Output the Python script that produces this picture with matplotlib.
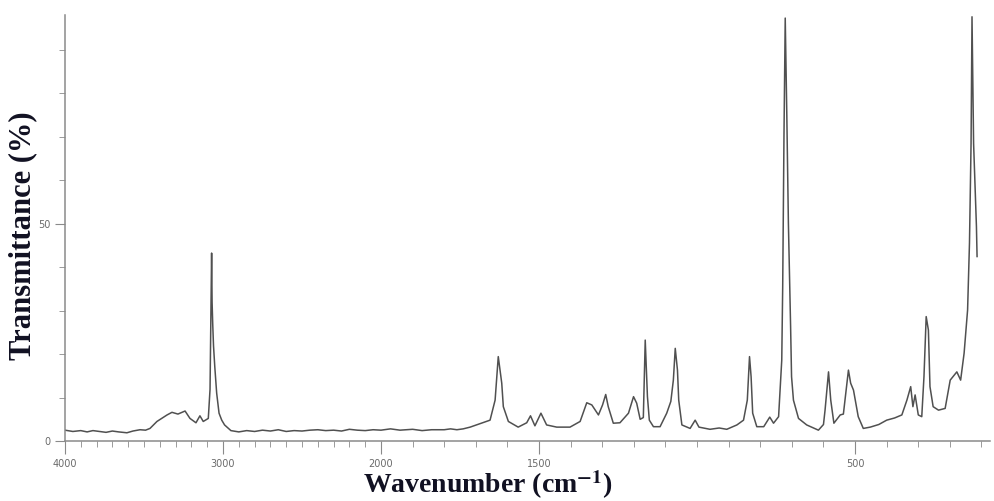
import numpy as np
import matplotlib
matplotlib.use("Agg")
import matplotlib.pyplot as plt

# spectrum (wavenumber in cm-1, transmittance in %)
wavenumber = [4000, 3950, 3900, 3860, 3823, 3780, 3740, 3700, 3660, 3608, 3570,
              3525, 3490, 3462, 3418, 3354, 3323, 3285,
              3240, 3209, 3171, 3146, 3125, 3093, 3082, 3076, 3072, 3069, 3065,
              3060, 3052, 3040, 3025, 3008, 2990, 2950, 2900, 2850, 2800, 2750,
              2700, 2650, 2600, 2550, 2500, 2450, 2400, 2350, 2300, 2250, 2200,
              2150, 2100, 2050, 2000, 1970, 1940, 1900, 1870, 1840, 1800, 1780,
              1760, 1740, 1718, 1655, 1639, 1629, 1618, 1613, 1597,
              1566, 1539, 1527, 1513, 1494, 1476, 1444, 1402, 1370, 1349, 1333,
              1312, 1299, 1289, 1281, 1265, 1244, 1217, 1201, 1191, 1180, 1170,
              1164, 1157, 1151, 1138, 1117, 1096, 1083, 1075, 1069, 1062, 1058,
              1048, 1022, 1006, 994, 959, 930, 906, 874, 853, 841, 834, 829, 824, 811,
              789, 770, 758, 742, 732, 729, 725, 721, 716, 711, 704, 701, 695,
              679, 653, 616, 600, 595, 584, 577, 567, 547, 537, 521, 514, 505,
              490, 474, 452, 425, 400, 375, 352, 336, 324, 317, 310, 300, 289, 282, 275,
              268, 263, 253, 236, 215, 199, 178, 166, 155, 144, 138, 133, 130,
              125, 116, 114]
transmittance = [2.6, 2.3, 2.5, 2.2, 2.5, 2.3, 2.1, 2.4, 2.2, 2.0, 2.4,
                 2.7, 2.6, 3.0, 4.6, 6.1, 6.7, 6.3,
                 7.0, 5.3, 4.3, 5.9, 4.6, 5.3, 12.0, 30.0, 43.3, 32.0, 27.0,
                 22.0, 17.2, 11.1, 6.5, 4.9, 3.8, 2.5, 2.2, 2.5, 2.3, 2.6,
                 2.4, 2.7, 2.3, 2.5, 2.4, 2.6, 2.7, 2.5, 2.6, 2.4, 2.8,
                 2.6, 2.5, 2.7, 2.6, 2.9, 2.6, 2.8, 2.5, 2.7, 2.7, 2.9,
                 2.7, 2.9, 3.3, 4.9, 9.5, 19.5, 13.4, 8.0, 4.6,
                 3.3, 4.3, 5.9, 3.6, 6.5, 3.8, 3.3, 3.3, 4.6, 8.9, 8.4,
                 6.1, 8.4, 10.8, 8.0, 4.2, 4.3, 6.5, 10.3, 8.8, 5.1, 5.5,
                 23.3, 10.3, 4.9, 3.4, 3.4, 6.5, 9.2, 14.1, 21.4, 16.4, 9.5,
                 3.8, 3.0, 4.9, 3.3, 2.8, 3.1, 2.8, 3.8, 4.9, 9.5, 19.5, 14.9, 6.5, 3.4,
                 3.4, 5.6, 4.2, 5.7, 18.7, 35.6, 70.0, 97.3, 75.0, 50.2, 26.4, 14.9, 9.5,
                 5.3, 3.8, 2.6, 3.9, 7.2, 16.0, 9.5, 4.2, 6.1, 6.3, 16.4, 13.4, 11.8,
                 5.7, 3.0, 3.3, 3.9, 4.9, 5.4, 6.1, 9.5, 12.6, 8.0, 10.7, 6.1, 5.7, 14.9, 28.7,
                 25.6, 12.6, 8.0, 7.2, 7.6, 14.1, 16.0, 14.1, 20.3, 30.2, 45.6, 68.5, 97.6,
                 68.5, 49.4, 42.5]

major_x = [4000, 3000, 2000, 1500, 500]
major_y = [0, 50]


def forward(w):
    w = np.asarray(w, dtype=float)
    return np.where(w >= 2000, 2000 + (w - 2000) / 2, w)


def inverse(u):
    u = np.asarray(u, dtype=float)
    return np.where(u >= 2000, 2000 + (u - 2000) * 2, u)


plt.rcParams['mathtext.fontset'] = 'stix'

fig = plt.figure(figsize=(9.95, 5.01), dpi=100)
ax = fig.add_axes([0.0653, 0.1188, 0.9297, 0.8512])
ax.set_xscale('function', functions=(forward, inverse))

ax.plot(wavenumber, transmittance, color='#505050', linewidth=1.1)

ax.set_xlim(4000, 73)
ax.set_ylim(0, 98)

ax.set_xticks(major_x)
ax.set_xticklabels([str(v) for v in major_x])
ax.set_xticks(np.arange(100, 4000, 100), minor=True)
ax.set_yticks(major_y)
ax.set_yticks(np.arange(10, 100, 10), minor=True)

for side in ['top', 'right']:
    ax.spines[side].set_visible(False)
for side in ['left', 'bottom']:
    ax.spines[side].set_color('#8a8a8a')
    ax.spines[side].set_linewidth(1.1)

ax.tick_params(axis='both', which='major', direction='out', length=9,
               color='#8a8a8a', labelsize=7, labelcolor='#6a6a6a')
ax.tick_params(axis='both', which='minor', direction='out', length=4,
               color='#8a8a8a')
ax.tick_params(axis='y', which='major', length=7)

fig.text(0.023, 0.53, 'Transmittance (%)', rotation=90, ha='center', va='center',
         family='Liberation Serif', fontweight='bold', fontsize=22, color='#111122')
fig.text(0.49, 0.032, r'Wavenumber (cm$^{\mathbf{-1}}$)', ha='center', va='center',
         family='Liberation Serif', fontweight='bold', fontsize=20, color='#111122')

fig.savefig('out.png', dpi=100, facecolor='white')
